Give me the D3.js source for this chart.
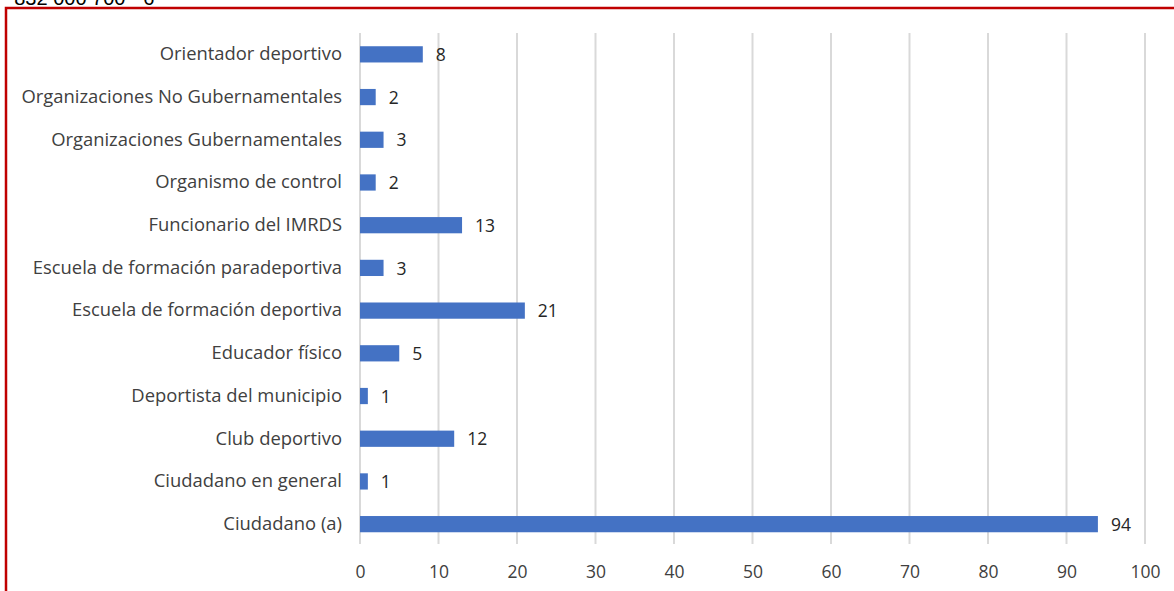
<!DOCTYPE html>
<html>
<head>
<meta charset="utf-8">
<script src="https://cdn.jsdelivr.net/npm/d3@7"></script>
<style>
body { margin: 0; background: #fff; }
</style>
</head>
<body>
<div id="chart"></div>
<script>
// data, top to bottom
var categories = ["Orientador deportivo", "Organizaciones No Gubernamentales", "Organizaciones Gubernamentales",
  "Organismo de control", "Funcionario del IMRDS", "Escuela de formación paradeportiva",
  "Escuela de formación deportiva", "Educador físico", "Deportista del municipio",
  "Club deportivo", "Ciudadano en general", "Ciudadano (a)"];
var values = [8, 2, 3, 2, 13, 3, 21, 5, 1, 12, 1, 94];
var tickValues = [0, 10, 20, 30, 40, 50, 60, 70, 80, 90, 100];

var width = 1174,
    height = 591;

var font = "'Open Sans', 'Noto Sans', sans-serif";

var svg = d3.select("#chart")
  .append("svg")
  .attr("width", width)
  .attr("height", height)
  .style("font-family", font);

// cut-off text above the frame
svg.append("text")
  .attr("x", 2)
  .attr("y", 5)
  .attr("font-size", 20)
  .attr("font-family", "'Liberation Sans', Arial, sans-serif")
  .attr("fill", "#000")
  .text("- 832 000 700 - 6");

// red frame
svg.append("path")
  .attr("d", "M6,600 L6,8 L1180,8")
  .attr("fill", "none")
  .attr("stroke", "#c00000")
  .attr("stroke-width", 2.5);

var x = d3.scaleLinear()
  .domain([0, 100])
  .range([360, 1145]);

var y = d3.scaleBand()
  .domain(categories)
  .range([33, 545.5])
  .paddingInner(0.62)
  .paddingOuter(0.31);

// gridlines
svg.append("g")
  .selectAll("line")
  .data(tickValues)
  .join("line")
  .attr("x1", function(d) { return x(d); })
  .attr("x2", function(d) { return x(d); })
  .attr("y1", 33)
  .attr("y2", 544)
  .attr("stroke", "#d9d9d9")
  .attr("stroke-width", 2);

// bars
svg.append("g")
  .selectAll("rect")
  .data(values)
  .join("rect")
  .attr("x", x(0))
  .attr("y", function(d, i) { return y(categories[i]); })
  .attr("width", function(d) { return x(d) - x(0); })
  .attr("height", y.bandwidth())
  .attr("fill", "#4472c4");

// value labels
svg.append("g")
  .selectAll("text")
  .data(values)
  .join("text")
  .attr("x", function(d) { return x(d) + 13; })
  .attr("y", function(d, i) { return y(categories[i]) + y.bandwidth() / 2; })
  .attr("dy", "0.38em")
  .attr("font-size", 17.5)
  .attr("fill", "#262626")
  .text(function(d) { return d; });

// y axis (category labels)
var yAxis = d3.axisLeft(y).tickSize(0).tickPadding(18);
var gy = svg.append("g")
  .attr("transform", "translate(" + x(0) + ",0)")
  .call(yAxis);
gy.select(".domain").remove();
gy.selectAll("text")
  .attr("font-size", 18.4)
  .attr("font-family", font)
  .attr("fill", "#404040");

// x axis
var xAxis = d3.axisBottom(x).tickValues(tickValues).tickSize(0).tickPadding(23);
var gx = svg.append("g")
  .attr("transform", "translate(0,543)")
  .call(xAxis);
gx.select(".domain").remove();
gx.selectAll("text")
  .attr("font-size", 17.5)
  .attr("font-family", font)
  .attr("fill", "#404040");
</script>
</body>
</html>
